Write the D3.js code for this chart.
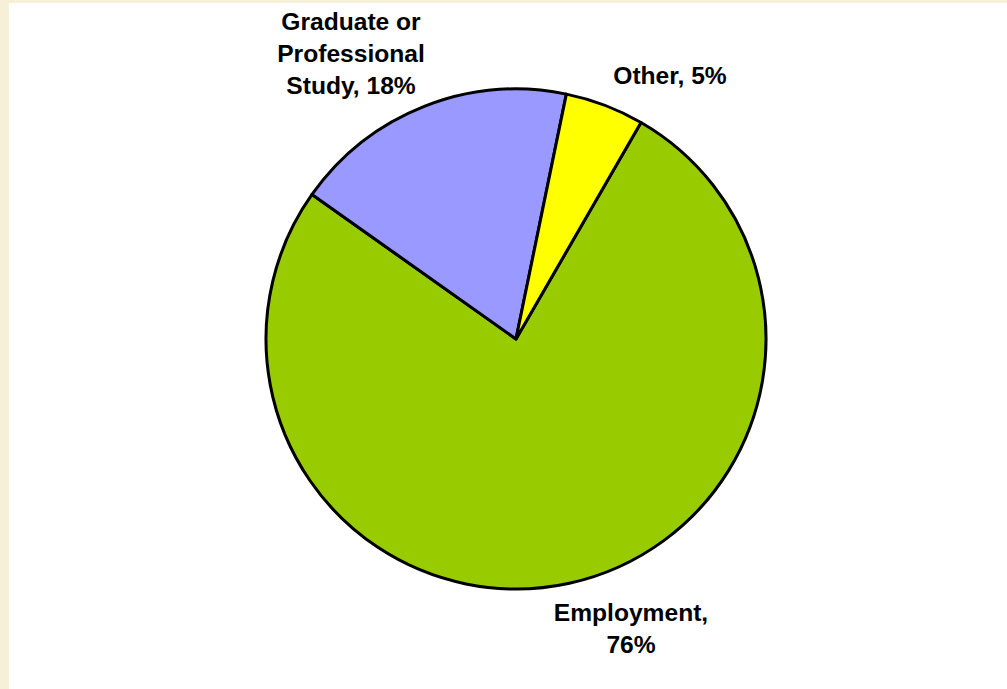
<!DOCTYPE html>
<html>
<head>
<meta charset="utf-8">
<script src="https://cdn.jsdelivr.net/npm/d3@7"></script>
<style>
  html, body { margin: 0; padding: 0; background: #f5f0d7; }
  #chart-area { position: absolute; left: 9px; top: 3px; }
</style>
</head>
<body>
<div id="chart-area"></div>
<script>
// data, in the order Excel draws them (clockwise)
var categories = ["Employment", "Graduate or Professional Study", "Other"];
var values = [76.4, 18.4, 5.1];
var sliceColors = ["#99cc00", "#9999ff", "#ffff00"];

var width = 998, height = 686;
var cx = 516 - 9, cy = 339 - 3, radius = 250;

var svg = d3.select("#chart-area").append("svg")
    .attr("width", width)
    .attr("height", height)
    .style("background", "#ffffff")
    .style("display", "block");

var pie = d3.pie()
    .sort(null)
    .startAngle(30 * Math.PI / 180)
    .endAngle(390 * Math.PI / 180);

var arc = d3.arc()
    .innerRadius(0)
    .outerRadius(radius);

var color = d3.scaleOrdinal()
    .domain(categories)
    .range(sliceColors);

var g = svg.append("g")
    .attr("transform", "translate(" + cx + "," + cy + ")");

var arcs = pie(values);

g.selectAll("path")
    .data(arcs)
  .enter()
    .append("path")
      .attr("d", arc)
      .attr("fill", (d, i) => color(categories[i]))
      .attr("stroke", "#000")
      .attr("stroke-width", 3)
      .attr("stroke-linejoin", "round");

// label lines per slice, positioned like the Excel best-fit labels
var labelLines = [
  ["Employment,", Math.round(values[0]) + "%"],
  ["Graduate or", "Professional", "Study, " + Math.round(values[1]) + "%"],
  ["Other, " + Math.round(values[2]) + "%"]
];
var labelPos = [[631, 620.5], [351, 29.5], [670, 84]];
var lineHeight = 32;

var labels = svg.selectAll("text.label")
    .data(labelLines)
  .enter()
    .append("text")
      .attr("class", "label")
      .attr("x", (d, i) => labelPos[i][0] - 9)
      .attr("y", (d, i) => labelPos[i][1] - 3)
      .attr("text-anchor", "middle")
      .style("font-family", "Arial, 'Liberation Sans', sans-serif")
      .style("font-weight", "bold")
      .style("font-size", "24.6px")
      .attr("fill", "#000");

labels.each(function(lines, i) {
  d3.select(this).selectAll("tspan")
    .data(lines)
    .enter()
    .append("tspan")
      .attr("x", labelPos[i][0] - 9)
      .attr("dy", (d, j) => j === 0 ? 0 : lineHeight)
      .text(d => d);
});
</script>
</body>
</html>
